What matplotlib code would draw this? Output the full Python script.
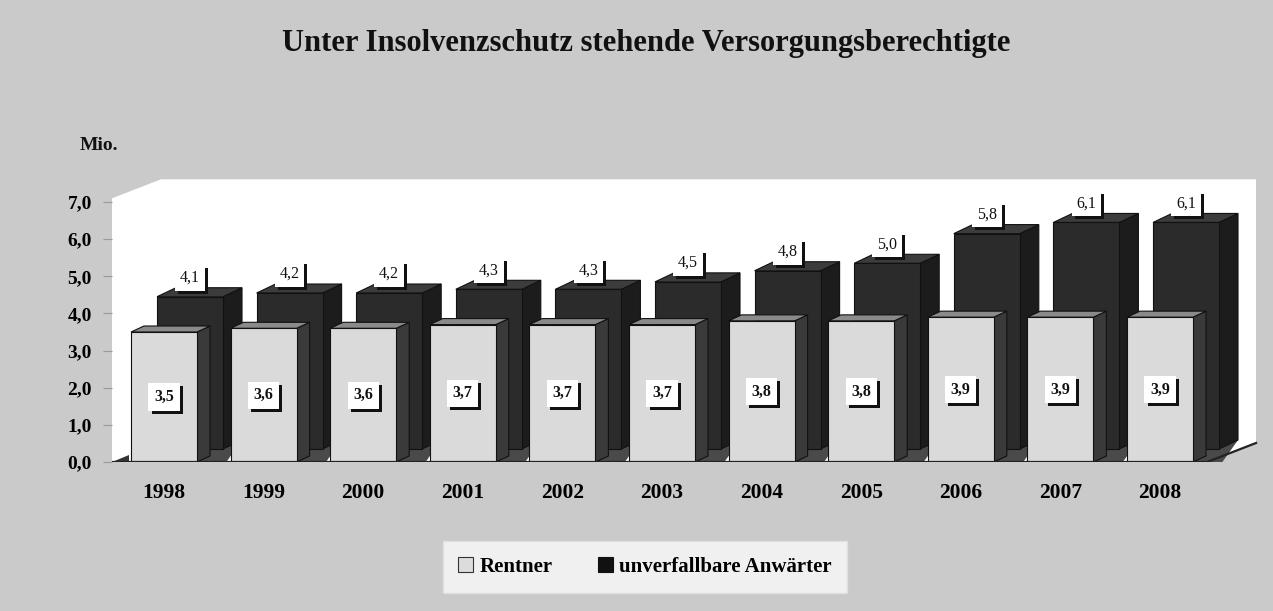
import matplotlib
matplotlib.use("Agg")
import matplotlib.pyplot as plt
from matplotlib import patheffects
from matplotlib.patches import Patch

# ---- data ----
years = ["1998", "1999", "2000", "2001", "2002", "2003", "2004", "2005", "2006", "2007", "2008"]
rentner = [3.5, 3.6, 3.6, 3.7, 3.7, 3.7, 3.8, 3.8, 3.9, 3.9, 3.9]
anwaerter = [4.1, 4.2, 4.2, 4.3, 4.3, 4.5, 4.8, 5.0, 5.8, 6.1, 6.1]
yticks = [0, 1, 2, 3, 4, 5, 6, 7]
series_names = ["Rentner", "unverfallbare Anwärter"]
title = "Unter Insolvenzschutz stehende Versorgungsberechtigte"
unit = "Mio."

SERIF = ["Liberation Serif", "DejaVu Serif"]
plt.rcParams["font.family"] = SERIF

W, H = 1273, 611
fig = plt.figure(figsize=(W / 100, H / 100), dpi=100)
BG = "#cacaca"
fig.patch.set_facecolor(BG)

# pixel layout
PX_CAT = 99.6     # pixels per category
PX_VAL = 37.14    # pixels per unit
X0PX = 164        # pixel x of first category center
Y0PX = 462        # pixel y of value 0
L, R, T = 112, 1270, 170
ax = fig.add_axes([L / W, (H - Y0PX) / H, (R - L) / W, (Y0PX - T) / H])
ax.set_xlim((L - X0PX) / PX_CAT, (R - X0PX) / PX_CAT)
ax.set_ylim(0, (Y0PX - T) / PX_VAL)
ax.patch.set_alpha(0)
for s in ax.spines.values():
    s.set_visible(False)

def px_dx(p):
    return p / PX_CAT

def px_dy(p):
    return p / PX_VAL

n = len(years)
# wall / floor
xl = px_dx(112 - X0PX)
xr = (n - 1) + px_dx(1207 - (X0PX + (n - 1) * PX_CAT))
wtop = max(yticks) + 0.1
WDX, WDY = px_dx(49), px_dy(19)
ax.fill([xl, xl, xl + WDX, xr + WDX, xr + WDX, xr],
        [0, wtop, wtop + WDY, wtop + WDY, WDY, 0],
        color="white", zorder=0, lw=0)
ax.plot([xl, xr, xr + WDX], [0, 0, WDY], color="#222222", lw=1.6, zorder=8)
ax.fill([xl, xl + WDX * 0.35, xl + WDX * 0.35], [0, 0, WDY * 0.35],
        color="#333333", lw=0, zorder=1)

BW = px_dx(66)
# light bar depth
LDX, LDY = px_dx(13), px_dy(6)
# dark bar offsets
DOX, DOY = px_dx(26), px_dy(13)
DDX, DDY = px_dx(19), px_dy(9)

def box3d(xc, y0, y1, bw, ddx, ddy, front, side, top, z):
    x0, x1 = xc - bw / 2, xc + bw / 2
    ax.fill([x0, x1, x1, x0], [y0, y0, y1, y1], facecolor=front,
            edgecolor="#111111", lw=0.8, zorder=z + 0.2)
    ax.fill([x1, x1 + ddx, x1 + ddx, x1], [y0, y0 + ddy, y1 + ddy, y1],
            facecolor=side, edgecolor="#111111", lw=0.8, zorder=z)
    ax.fill([x0, x1, x1 + ddx, x0 + ddx], [y1, y1, y1 + ddy, y1 + ddy],
            facecolor=top, edgecolor="#111111", lw=0.8, zorder=z + 0.1)

def fmt(v):
    return f"{v:.1f}".replace(".", ",")

shadow = [patheffects.withSimplePatchShadow(offset=(2.2, -2.2), shadow_rgbFace="#111111", alpha=1.0)]

# dark bars (behind)
for i, v in enumerate(anwaerter):
    xc = i + DOX
    x0, x1 = xc - BW / 2, xc + BW / 2
    # floor shadow under the dark bar
    ax.fill([x0 - DOX, x1 + DDX - DOX * 0.6, x1 + DDX, x0],
            [0, 0, DOY + DDY, DOY], facecolor="#4a4a4a", lw=0, zorder=1.5)
    box3d(xc, DOY, v + DOY, BW, DDX, DDY, "#2b2b2b", "#1c1c1c", "#3c3c3c", 2)
    t = ax.text(xc, v + DOY + px_dy(19), fmt(v), ha="center", va="center",
                fontsize=11.5, color="#111111", zorder=6,
                bbox=dict(boxstyle="square,pad=0.3", fc="white", ec="none"))
    t.get_bbox_patch().set_path_effects(shadow)

# light bars (front)
for i, v in enumerate(rentner):
    box3d(i, 0, v, BW, LDX, LDY, "#dadada", "#3a3a3a", "#8a8a8a", 4)
    t = ax.text(i, v / 2, fmt(v), ha="center", va="center",
                fontsize=11.5, fontweight="bold", color="#111111", zorder=7,
                bbox=dict(boxstyle="square,pad=0.35", fc="white", ec="none"))
    t.get_bbox_patch().set_path_effects(shadow)

# axes ticks
ax.set_yticks(yticks)
ax.set_yticklabels([fmt(v) for v in yticks], fontsize=14, fontweight="bold")
ax.tick_params(axis="y", length=6.5, width=0.8, color="#999999", pad=8)
ax.set_xticks(range(n))
ax.set_xticklabels(years, fontsize=15.5, fontweight="bold")
ax.tick_params(axis="x", length=0, pad=15)

fig.text(646 / W, 1 - 43 / H, title, ha="center", va="center",
         fontsize=22, fontweight="bold", color="#111111")
fig.text(80 / W, 1 - 146 / H, unit, ha="left", va="center",
         fontsize=14, fontweight="bold", color="#111111")

handles = [Patch(facecolor="#dcdcdc", edgecolor="#333333", lw=0.8, label=series_names[0]),
           Patch(facecolor="#111111", edgecolor="#111111", lw=0.8, label=series_names[1])]
leg = fig.legend(handles=handles, loc="center", bbox_to_anchor=(645 / W, 1 - 567 / H),
                 ncol=2, frameon=True, fancybox=False,
                 prop=dict(family=SERIF, weight="bold", size=15),
                 handlelength=0.7, handleheight=0.7, handletextpad=0.3,
                 columnspacing=2.2, borderpad=0.75)
leg.get_frame().set_facecolor("#fafafa")
leg.get_frame().set_edgecolor("#e0e0e0")

fig.savefig("out.png", dpi=100, facecolor=fig.get_facecolor())
